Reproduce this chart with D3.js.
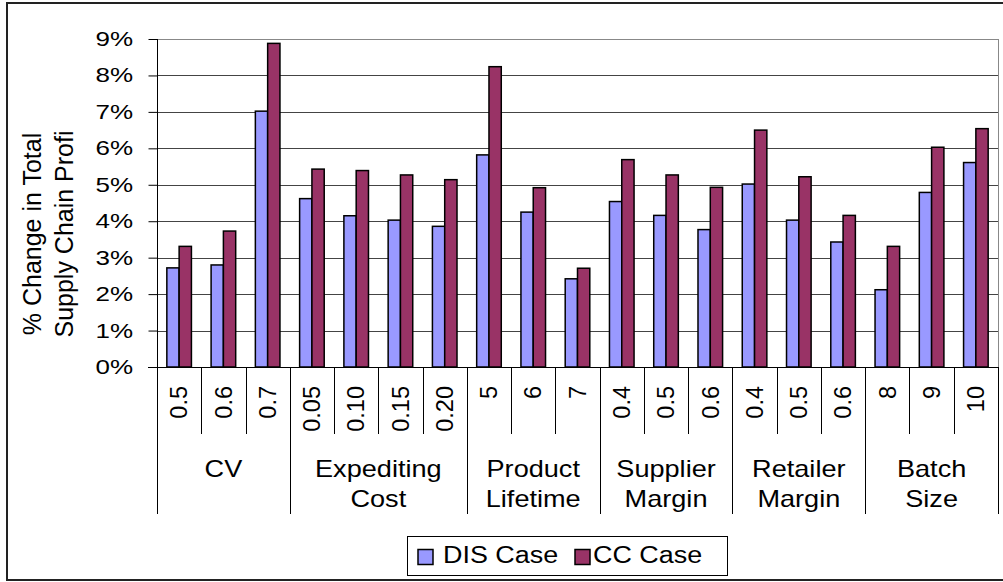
<!DOCTYPE html>
<html><head><meta charset="utf-8">
<script src="https://cdn.jsdelivr.net/npm/d3@7"></script>
<style>
html,body{margin:0;padding:0;background:#fff;}
svg{display:block;}
text{font-family:"Liberation Sans",Arial,sans-serif;fill:#000;}
</style></head>
<body>
<svg id="chart" width="1003" height="582"></svg>
<script>
const subLabels = ["0.5","0.6","0.7","0.05","0.10","0.15","0.20","5","6","7","0.4","0.5","0.6","0.4","0.5","0.6","8","9","10"];
const groupNames = [["CV"],["Expediting","Cost"],["Product","Lifetime"],["Supplier","Margin"],["Retailer","Margin"],["Batch","Size"]];
const groupSizes = [3,4,3,3,3,3];
const seriesNames = ["DIS Case","CC Case"];
const seriesColors = ["#9999FF","#993366"];
const disValues = [2.72,2.80,7.02,4.62,4.15,4.03,3.86,5.82,4.25,2.42,4.54,4.16,3.77,5.02,4.03,3.43,2.12,4.79,5.61];
const ccValues  = [3.31,3.73,8.88,5.43,5.39,5.27,5.14,8.24,4.92,2.71,5.69,5.27,4.93,6.50,5.22,4.16,3.31,6.03,6.54];
const yTicks = [0,1,2,3,4,5,6,7,8,9];
const yTitle = ["% Change in Total","Supply Chain Profi"];

const svg = d3.select("#chart");
const L = 157, R = 998, T = 39, B = 367;

// outer border
svg.append("rect").attr("x",7).attr("y",3).attr("width",1000).attr("height",577)
  .attr("fill","none").attr("stroke","#222").attr("stroke-width",2);

const idx = d3.range(subLabels.length);
const x0 = d3.scaleBand().domain(idx).range([L,R]).padding(0);
const x1 = d3.scaleBand().domain([0,1]).range([0,x0.bandwidth()]).paddingInner(0).paddingOuter(0.8);
const y = d3.scaleLinear().domain([0,9]).range([B,T]);

// gridlines
svg.append("g").selectAll("line").data(yTicks.filter(d=>d>0)).join("line")
  .attr("x1",L).attr("x2",R)
  .attr("y1",d=>Math.round(y(d))+0.5).attr("y2",d=>Math.round(y(d))+0.5)
  .attr("stroke",d=>d===9?"#888":"#444").attr("stroke-width",1);
// right border of plot
svg.append("line").attr("x1",R+0.5).attr("x2",R+0.5).attr("y1",T).attr("y2",B).attr("stroke","#888");

// bars
const series = [disValues, ccValues];
const gBars = svg.append("g");
series.forEach((vals,si)=>{
  gBars.append("g").selectAll("rect").data(vals).join("rect")
    .attr("x",(d,i)=>x0(i)+x1(si))
    .attr("width",x1.bandwidth())
    .attr("y",d=>y(d))
    .attr("height",d=>B-y(d))
    .attr("fill",seriesColors[si])
    .attr("stroke","#000").attr("stroke-width",1.5);
});

// y axis
const yAxis = d3.axisLeft(y).tickValues(yTicks).tickSize(9).tickFormat("");
const ga = svg.append("g").attr("transform",`translate(${L+0.5},0)`).call(yAxis);
ga.select(".domain").attr("stroke","#000").attr("d",`M0,${T}V${B}`);
ga.selectAll(".tick line").attr("stroke","#000");
svg.append("g").selectAll("text").data(yTicks).join("text")
  .attr("transform",d=>`translate(133,${y(d)}) scale(1.3,1)`)
  .attr("text-anchor","end").attr("dy","0.35em")
  .style("font-size","20px")
  .text(d=>d+"%");

// x axis baseline
svg.append("line").attr("x1",148).attr("x2",R).attr("y1",B+0.5).attr("y2",B+0.5).attr("stroke","#000");

// group boundaries
const groupStarts = [];
let acc = 0;
groupSizes.forEach(n=>{groupStarts.push(acc); acc+=n;});
const boundaries = idx.concat([subLabels.length]);
const isGroupEdge = new Set(groupStarts.concat([subLabels.length]));
svg.append("g").selectAll("line").data(boundaries).join("line")
  .attr("x1",i=>Math.round(i<subLabels.length?x0(i):R)+0.5)
  .attr("x2",i=>Math.round(i<subLabels.length?x0(i):R)+0.5)
  .attr("y1",B).attr("y2",i=>isGroupEdge.has(i)?514:434)
  .attr("stroke","#000").attr("stroke-width",1);

// sub labels
svg.append("g").selectAll("text").data(subLabels).join("text")
  .attr("transform",(d,i)=>`translate(${x0(i)+x0.bandwidth()/2},386) rotate(-90)`)
  .attr("text-anchor","end").attr("dy","0.35em")
  .style("font-size","23.5px")
  .text(d=>d);

// group labels
const gg = svg.append("g");
groupNames.forEach((lines,gi)=>{
  const s = groupStarts[gi], e = s+groupSizes[gi];
  const cx = (x0(s) + (e<subLabels.length?x0(e):R))/2;
  lines.forEach((ln,li)=>{
    gg.append("text")
      .attr("transform",`translate(${cx},${476.7+li*30}) scale(1.13,1)`)
      .attr("text-anchor","middle")
      .style("font-size","24px")
      .text(ln);
  });
});

// y title
yTitle.forEach((ln,li)=>{
  svg.append("text")
    .attr("transform",`translate(${40.7+li*32.3},234) rotate(-90)`)
    .attr("text-anchor","middle")
    .style("font-size","25px")
    .text(ln);
});

// legend
const lg = svg.append("g");
lg.append("rect").attr("x",407.5).attr("y",536.5).attr("width",320).attr("height",39)
  .attr("fill","#fff").attr("stroke","#000").attr("stroke-width",1);
const legX = [418,575];
const legTX = [443,593];
seriesNames.forEach((n,i)=>{
  lg.append("rect").attr("x",legX[i]).attr("y",549.5).attr("width",15).attr("height",15)
    .attr("fill",seriesColors[i]).attr("stroke","#000").attr("stroke-width",1.5);
  lg.append("text").attr("transform",`translate(${legTX[i]},563.3) scale(1.17,1)`)
    .style("font-size","23px").text(n);
});
</script>
</body></html>
